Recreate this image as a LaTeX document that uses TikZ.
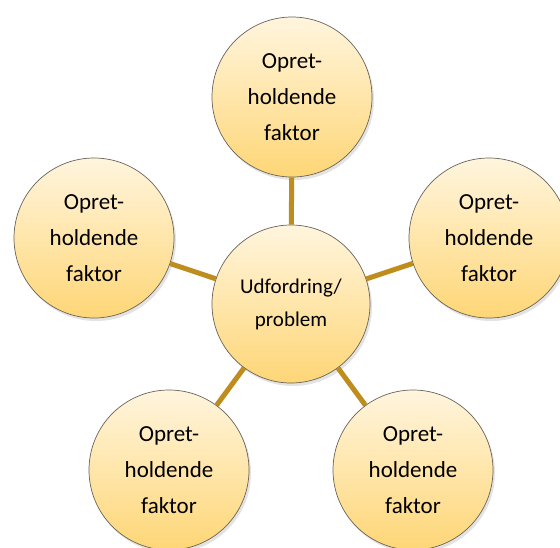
\documentclass[tikz,border=0pt]{standalone}
\usepackage{fontspec}
\setmainfont{Carlito}
\usetikzlibrary{shadows}
\definecolor{linkc}{RGB}{191,140,30}
\definecolor{ctop}{RGB}{255,245,222}
\definecolor{cbot}{RGB}{254,214,118}
\definecolor{rim}{RGB}{105,98,88}
\begin{document}
\begin{tikzpicture}[x=1pt,y=-1pt,
  bubble/.style={circle, minimum size=160pt, inner sep=0pt, draw=rim, line width=0.7pt,
    top color=ctop, bottom color=cbot, align=center,
    font=\fontsize{23}{36}\selectfont,
    drop shadow={opacity=0.22, shadow xshift=2pt, shadow yshift=-3pt}},
  hub/.style={bubble, minimum size=158pt, font=\fontsize{21}{33}\selectfont},
  link/.style={draw=linkc, line width=5pt}]
\useasboundingbox (0,0) rectangle (560,547);
\node[hub]    (C)  at (291,304) {Udfordring/\\problem};
\node[bubble] (T)  at (292,97)  {Opret-\\holdende\\faktor};
\node[bubble] (L)  at (94,238)  {Opret-\\holdende\\faktor};
\node[bubble] (R)  at (489,238) {Opret-\\holdende\\faktor};
\node[bubble] (BL) at (169,470) {Opret-\\holdende\\faktor};
\node[bubble] (BR) at (413,470) {Opret-\\holdende\\faktor};
\draw[link] (C) -- (T);
\draw[link] (C) -- (L);
\draw[link] (C) -- (R);
\draw[link] (C) -- (BL);
\draw[link] (C) -- (BR);
\end{tikzpicture}
\end{document}
